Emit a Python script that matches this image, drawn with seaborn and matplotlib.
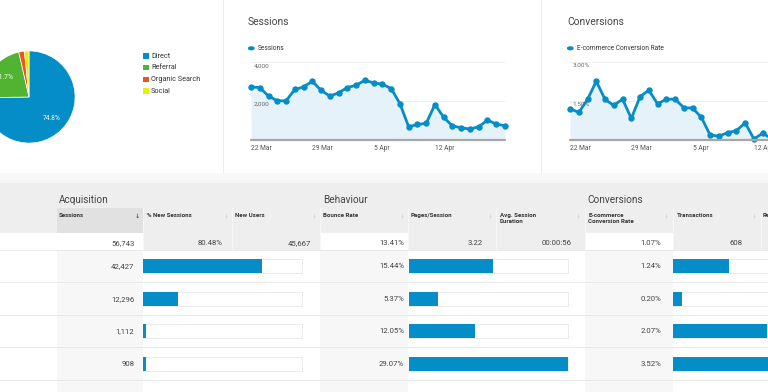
import numpy as np
import pandas as pd
import matplotlib
matplotlib.use("Agg")
import matplotlib.pyplot as plt
import seaborn as sns
from matplotlib.patches import Rectangle

# --- data ---
channels = ["Direct", "Referral", "Organic Search", "Social"]
channel_sessions = [42427, 12296, 1112, 908]
bounce_rate = [15.44, 5.37, 12.05, 29.07]
conv_rate = [1.24, 0.20, 2.07, 3.52]

date_ticks = [0, 7, 14, 21]
date_labels = ["22 Mar", "29 Mar", "5 Apr", "12 Apr"]

sessions_daily = [2720, 2690, 2250, 2010, 2010, 2590, 2720, 3010, 2550, 2250,
                  2420, 2690, 2810, 3060, 2930, 2860, 2640, 1870, 680, 800,
                  850, 1820, 1160, 720, 630, 560, 680, 1020, 820, 730]
# only the first 24 days are visible before the screenshot is cut off
conv_daily = [1.21, 1.06, 1.56, 2.26, 1.56, 1.33, 1.57, 0.83, 1.67, 1.91,
              1.39, 1.57, 1.57, 1.24, 1.23, 0.87, 0.19, 0.15, 0.28, 0.36,
              0.66, 0.04, 0.26, 0.06]

totals = {"Sessions": "56,743", "% New Sessions": "80.48%", "New Users": "45,667",
          "Bounce Rate": "13.41%", "Pages/Session": "3.22",
          "Avg. Session\nDuration": "00:00:56",
          "E-commerce\nConversion Rate": "1.07%", "Transactions": "608"}

BLUE = "#058dc7"
FILL = "#e6f2f9"
PIE_COLORS = ["#058dc7", "#50b432", "#ed561b", "#edef00"]
HEAD_GRAY = "#eeeeee"
ROW_GRAY = "#f7f7f7"

sns.set_style("white")
plt.rcParams["font.family"] = ["Roboto", "DejaVu Sans"]

W, H = 768, 392
fig = plt.figure(figsize=(7.68, 3.92), dpi=100)


def px_rect(x0, y0, x1, y1, color, z=-5):
    fig.add_artist(Rectangle((x0 / W, 1 - y1 / H), (x1 - x0) / W, (y1 - y0) / H,
                             transform=fig.transFigure, facecolor=color,
                             edgecolor="none", zorder=z))


def px_text(x, y, s, **kw):
    kw.setdefault("va", "center")
    kw.setdefault("color", "#444444")
    fig.text(x / W, 1 - y / H, s, **kw)


def px_axes(x0, y0, x1, y1):
    return fig.add_axes([x0 / W, 1 - y1 / H, (x1 - x0) / W, (y1 - y0) / H])


# --- background blocks ---
px_rect(222.5, 0, 223.5, 173, "#ececec")
px_rect(540.5, 0, 541.5, 173, "#ececec")
px_rect(0, 173, W, 183, "#f8f8f8")
px_rect(0, 183, W, 233, HEAD_GRAY)
for x0, x1 in [(143, 320), (408, 585), (673, W)]:
    px_rect(x0, 233, x1, 250, HEAD_GRAY)
for x0, x1 in [(57, 143), (320, 408), (585, 673)]:
    px_rect(x0, 250, x1, H, ROW_GRAY)
px_rect(57, 208, 143, 232.5, "#e1e1e1", z=-4)
for x in [143, 232, 320, 408, 496, 585, 673, 761]:
    px_rect(x - 0.5, 208, x + 0.5, 250, "#f6f6f6", z=-3)
for y in [250, 282.5, 315, 347.5, 380]:
    px_rect(0, y - 0.5, W, y + 0.5, "#e9e9e9", z=-3)

# --- pie of channels ---
axp = px_axes(-18, 50, 76, 144)
axp.pie(channel_sessions, colors=PIE_COLORS, startangle=90, counterclock=False,
        autopct=lambda p: f"{p:.1f}%" if p > 5 else "", pctdistance=0.68,
        wedgeprops=dict(edgecolor="white", linewidth=0.5),
        textprops=dict(color="white", fontsize=4.8))
axp.set_xlim(-1.02, 1.02)
axp.set_ylim(-1.02, 1.02)

for i, name in enumerate(channels):
    y = 56 + i * 11.7
    px_rect(143, y - 2.7, 148.5, y + 2.7, PIE_COLORS[i], z=2)
    px_text(151, y, name, fontsize=5.2, color="#333333")


def line_panel(x0, title, legend, values, ymax, ylabels):
    px_text(x0 - 3, 22, title, fontsize=7.4, color="#444444")
    fig.add_artist(plt.Circle(((x0 + 0.3) / W, 1 - 48.3 / H), 2.7 / W,
                              transform=fig.transFigure, color=BLUE))
    px_text(x0 + 7, 48.3, legend, fontsize=4.8, color="#333333")

    ax = px_axes(x0, 62, x0 + 254, 140)
    df = pd.DataFrame({"day": np.arange(len(values)), "value": values})
    ax.fill_between(df["day"], df["value"], color=FILL, lw=0)
    sns.lineplot(data=df, x="day", y="value", ax=ax, color=BLUE, lw=2,
                 marker="o", markersize=4.6, markeredgewidth=0)
    for line in ax.lines:
        line.set_clip_on(False)
    ax.set_xlim(0, 29)
    ax.set_ylim(0, ymax)
    for frac, lab in ylabels:
        ax.axhline(ymax * frac, color="#eeeeee", lw=0.7, zorder=0)
        ax.text(0.3, ymax * frac * 0.985, lab, va="top", ha="left",
                fontsize=4.6, color="#666666")
    ax.axhline(0, color="#a6a6a6", lw=1.6, clip_on=False)
    ax.set_xticks(date_ticks)
    ax.set_xticklabels(date_labels, ha="left")
    ax.set_yticks([])
    ax.tick_params(axis="x", length=0, labelsize=4.8, colors="#555555", pad=3.5)
    ax.set_xlabel("")
    ax.set_ylabel("")
    ax.patch.set_alpha(0)
    sns.despine(ax=ax, left=True, bottom=True)


line_panel(251, "Sessions", "Sessions", sessions_daily, 4000,
           [(1.0, "4,000"), (0.5, "2,000")])
line_panel(570, "Conversions", "E-commerce Conversion Rate", conv_daily, 3.0,
           [(1.0, "3.00%"), (0.5, "1.50%")])

# --- table header ---
px_text(59, 200, "Acquisition", fontsize=7.2, color="#444444")
px_text(323, 200, "Behaviour", fontsize=7.2, color="#444444")
px_text(587.5, 200, "Conversions", fontsize=7.2, color="#444444")

headers = [("Sessions", 59, 137), ("% New Sessions", 147, 226.5),
           ("New Users", 235, 314), ("Bounce Rate", 323, 402),
           ("Pages/Session", 411, 490.5), ("Avg. Session\nDuration", 500, 578),
           ("E-commerce\nConversion Rate", 588.5, 666), ("Transactions", 677, 754),
           ("Revenue", 763, None)]
for i, (name, x, arrow_x) in enumerate(headers):
    px_text(x, 213.5, name, va="top", fontsize=4.4, fontweight="bold",
            color="#333333", linespacing=1.15)
    if arrow_x is not None:
        px_text(arrow_x, 216.5, "↓", ha="center", fontsize=4.6,
                color="#333333" if i == 0 else "#d0d0d0")

# total row
total_x = [135, 222.5, 311.5, 404, 483, 572, 661, 742.5]
for x, val in zip(total_x, totals.values()):
    px_text(x, 243, val, ha="right", fontsize=5.6)

# data rows
row_y = [266.3, 298.8, 331.3, 363.8]
for y, s, b, c in zip(row_y, channel_sessions, bounce_rate, conv_rate):
    px_text(134.5, y, f"{s:,}", ha="right", fontsize=5.6)
    px_text(404, y, f"{b:.2f}%", ha="right", fontsize=5.6)
    px_text(661.5, y, f"{c:.2f}%", ha="right", fontsize=5.6)


def bar_column(x0, values, scale):
    ax = px_axes(x0, 250, x0 + 160, 380)
    df = pd.DataFrame({"channel": channels, "value": values,
                       "full": [scale] * len(values)})
    sns.barplot(data=df, x="full", y="channel", orient="h", ax=ax, color="white",
                saturation=1, width=0.42, edgecolor="#e6e6e6", linewidth=0.6)
    sns.barplot(data=df, x="value", y="channel", orient="h", ax=ax, color=BLUE,
                saturation=1, width=0.42, linewidth=0)
    ax.set_xlim(0, scale * 1.004)
    ax.set_ylim(3.5, -0.5)
    ax.axis("off")
    ax.patch.set_alpha(0)


bar_column(143, channel_sessions, sum(channel_sessions))
bar_column(408.5, bounce_rate, max(bounce_rate))
bar_column(673, conv_rate, max(conv_rate))

fig.savefig("out.png", dpi=100, facecolor="white")
